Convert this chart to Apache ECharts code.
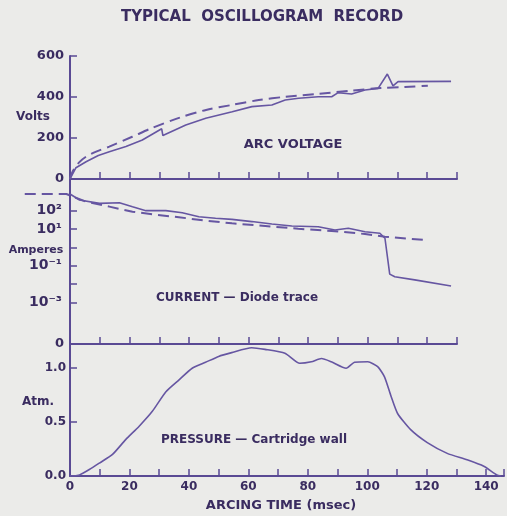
<!DOCTYPE html>
<html>
<head>
<meta charset="utf-8">
<script src="https://cdn.jsdelivr.net/npm/echarts@6/dist/echarts.min.js"></script>
<style>
  html, body { margin: 0; padding: 0; background: #ebebe9; }
  #chart { width: 507px; height: 516px; }
</style>
</head>
<body>
<div id="chart"></div>
<script>
// arc voltage (volts) - solid is the trace, dashed the reference curve
const voltTime = [0, 2, 5.4, 9.5, 13.2, 18.8, 24.3, 30.8, 31.2, 38.9, 45.6, 54.5, 61.1, 67.8, 72.3, 76.8, 83.4, 87.9, 90.1, 94.6, 99.1, 103.5, 106.6, 108.5, 110.2, 128];
const voltTrace = [0, 55, 84, 115, 133, 158, 190, 245, 212, 263, 296, 328, 353, 361, 385, 394, 401, 401, 421, 415, 434, 442, 512, 454, 475, 476];
const voltRefTime = [0, 1, 3, 5.4, 9, 13.2, 20.9, 27.6, 36.6, 45.7, 54.3, 63.4, 72.4, 83.4, 94.5, 104.5, 112.5, 120.2];
const voltRef = [0, 40, 80, 109, 135, 158, 206, 249, 298, 337, 361, 385, 401, 415, 431, 444, 449, 455];

// current (amperes, log scale)
const ampTime = [0, 3.2, 9.9, 16.6, 21, 25.5, 32.2, 37.7, 43.3, 48.9, 54.4, 61.1, 67.8, 74.5, 83.4, 89, 93.5, 99.1, 104.1, 105.8, 107.4, 109.1, 115.8, 128];
const ampTrace = [790, 370, 245, 265, 160, 98, 98, 76, 46, 38, 33, 25, 18.5, 14.4, 13.2, 8.7, 10.8, 7, 5.8, 3.1, 0.035, 0.025, 0.017, 0.0079];
const ampRefTime = [-15.2, -1.2, 0.4, 5.4, 13.2, 21, 27.7, 36.6, 45.6, 54.4, 65.6, 76.7, 87.9, 99.1, 105.8, 119.1];
const ampRef = [790, 790, 615, 302, 162, 86, 62, 43, 28, 20, 14.4, 10.2, 7.7, 5.3, 3.8, 2.5];
const ampTicks = [100, 10, 1, 0.1, 0.01, 0.001];
const ampLabels = [100, 10, 0.1, 0.001];

// cartridge wall pressure (atm)
const presTime = [0, 0.4, 3.2, 6.5, 9.9, 14.3, 18.8, 23.2, 27.7, 32.2, 36.6, 41.1, 45.6, 50, 54.4, 61.1, 65.6, 72.3, 77.3, 81.2, 84.6, 87.9, 92.9, 95.7, 100.2, 103.5, 105.8, 108, 110.2, 114.6, 120.2, 126.9, 133.6, 139.2, 143.6, 145];
const presTrace = [0, 0, 0.01, 0.06, 0.12, 0.2, 0.34, 0.46, 0.6, 0.78, 0.89, 1.0, 1.055, 1.11, 1.145, 1.19, 1.175, 1.14, 1.046, 1.06, 1.09, 1.06, 1.0, 1.055, 1.06, 1.015, 0.92, 0.74, 0.58, 0.43, 0.31, 0.21, 0.15, 0.09, 0.01, 0];

const zip = (xs, ys) => xs.map((x, i) => [x, ys[i]]);

const ink = "#3a2c60";
const lineColor = "#6656a2";
const axisColor = "#5a4a94";
const font = "DejaVu Sans";

const plotLeft = 70;
const plotWidth = 387; // 0..130 msec
const ampMin = Math.pow(10, -5.255);
const ampMax = Math.pow(10, 3.712);

const supDigits = { "-": "\u207B", "0": "\u2070", "1": "\u00B9", "2": "\u00B2", "3": "\u00B3" };
const powerLabel = (v) => "10" + String(Math.round(Math.log10(v))).split("").map((c) => supDigits[c] || c).join("");

const axisBase = {
    axisLine: { lineStyle: { color: axisColor, width: 2 } },
    axisTick: { inside: true, length: 7, lineStyle: { color: axisColor, width: 1.5 } },
    splitLine: { show: false },
    axisLabel: { color: ink, fontFamily: font, fontWeight: "bold", fontSize: 12 },
};

const xTime = (idx, max, extra) => Object.assign({}, axisBase, {
    type: "value", gridIndex: idx, min: 0, max: max, interval: 10,
}, extra);

const chart = echarts.init(document.getElementById("chart"));

const option = {
    backgroundColor: "#ebebe9",
    animation: false,
    grid: [
        { left: plotLeft, top: 56, width: plotWidth, height: 123 },
        { left: plotLeft, top: 179, width: plotWidth, height: 165 },
        { left: plotLeft, top: 344, width: 437, height: 132 },
        // same current scale, widened to the page edge for the dashed lead-in
        { left: 0, top: 179, width: plotLeft + plotWidth, height: 165 },
    ],
    xAxis: [
        xTime(0, 130, { axisLabel: { show: false } }),
        xTime(1, 130, {
            axisLabel: { show: false },
            name: "0", nameLocation: "start", nameGap: 6,
            nameTextStyle: { color: ink, fontFamily: font, fontWeight: "bold", fontSize: 13 },
        }),
        xTime(2, 146, {
            axisLabel: Object.assign({}, axisBase.axisLabel, {
                margin: 5,
                formatter: (v) => (v % 20 === 0 ? String(v) : ""),
            }),
        }),
        { type: "value", gridIndex: 3, show: false, min: -130 * plotLeft / plotWidth, max: 130 },
    ],
    yAxis: [
        Object.assign({}, axisBase, {
            type: "value", gridIndex: 0, min: 0, max: 600, interval: 200,
            axisLabel: Object.assign({}, axisBase.axisLabel, { fontSize: 13, margin: 6 }),
        }),
        Object.assign({}, axisBase, {
            type: "log", gridIndex: 1, logBase: 10, min: ampMin, max: ampMax,
            axisTick: Object.assign({}, axisBase.axisTick, { customValues: ampTicks }),
            axisLabel: Object.assign({}, axisBase.axisLabel, {
                customValues: ampLabels, margin: 8, fontSize: 14,
                hideOverlap: false, formatter: powerLabel,
            }),
        }),
        Object.assign({}, axisBase, {
            type: "value", gridIndex: 2, min: 0, max: 1.225, interval: 0.5,
            axisLabel: Object.assign({}, axisBase.axisLabel, {
                margin: 4, fontSize: 12, showMaxLabel: false,
                formatter: (v) => v.toFixed(1),
            }),
        }),
        { type: "log", gridIndex: 3, logBase: 10, show: false, min: ampMin, max: ampMax },
    ],
    series: [
        {
            type: "line", xAxisIndex: 0, yAxisIndex: 0, symbol: "none",
            data: zip(voltTime, voltTrace),
            lineStyle: { color: lineColor, width: 1.6 },
        },
        {
            type: "line", xAxisIndex: 0, yAxisIndex: 0, symbol: "none", smooth: 0.3,
            data: zip(voltRefTime, voltRef),
            lineStyle: { color: lineColor, width: 2, type: [11, 6] },
        },
        {
            type: "line", xAxisIndex: 1, yAxisIndex: 1, symbol: "none",
            data: zip(ampTime, ampTrace),
            lineStyle: { color: lineColor, width: 1.6 },
        },
        {
            type: "line", xAxisIndex: 3, yAxisIndex: 3, symbol: "none",
            data: zip(ampRefTime, ampRef),
            lineStyle: { color: lineColor, width: 2, type: [11, 6] },
        },
        {
            type: "line", xAxisIndex: 2, yAxisIndex: 2, symbol: "none", smooth: 0.2,
            data: zip(presTime, presTrace),
            lineStyle: { color: lineColor, width: 1.6 },
        },
    ],
    graphic: [
        ["TYPICAL  OSCILLOGRAM  RECORD", 262, 17, 15],
        ["Volts", 33, 117, 12],
        ["ARC VOLTAGE", 293, 145, 13],
        ["Amperes", 36, 250, 11],
        ["CURRENT \u2014 Diode trace", 237, 298, 12],
        ["Atm.", 38, 402, 12],
        ["PRESSURE \u2014 Cartridge wall", 254, 440, 12],
        ["ARCING TIME (msec)", 281, 506, 13],
    ].map(([text, x, y, size]) => ({
        type: "text", x: x, y: y,
        style: {
            text: text, fill: ink, textAlign: "center", textVerticalAlign: "middle",
            font: "bold " + size + "px '" + font + "'",
        },
    })),
};

chart.setOption(option);
</script>
</body>
</html>
